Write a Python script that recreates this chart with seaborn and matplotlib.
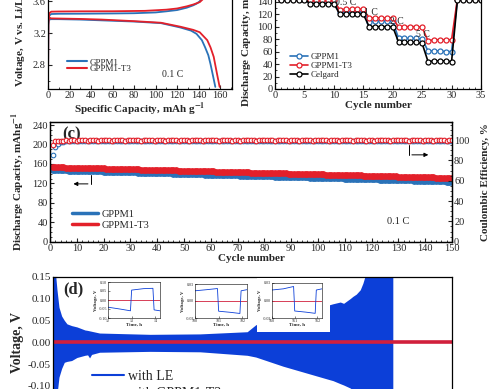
import matplotlib
matplotlib.use("Agg")
import matplotlib.pyplot as plt
import seaborn as sns
from matplotlib.lines import Line2D
from matplotlib.patches import Rectangle
from matplotlib.ticker import MultipleLocator, FormatStrFormatter

# ---------------- data ----------------
# (a) charge / discharge curves at 0.1 C
cap_chg_gppm1 = [0, 0.4, 1.2, 3, 10, 30, 60, 80, 100, 110, 120, 129, 135, 138, 141, 144, 147]
v_chg_gppm1 = [2.52, 3.30, 3.42, 3.44, 3.443, 3.444, 3.447, 3.45, 3.46, 3.474, 3.49, 3.52, 3.55, 3.57, 3.60, 3.66, 3.75]
cap_chg_t3 = [0, 0.4, 1.2, 3, 10, 30, 60, 90, 110, 120, 129, 135, 141, 145, 148]
v_chg_t3 = [2.52, 3.32, 3.45, 3.47, 3.472, 3.474, 3.475, 3.48, 3.495, 3.51, 3.537, 3.56, 3.59, 3.64, 3.75]
cap_dis_gppm1 = [0, 1, 3, 10, 30, 50, 80, 105, 123, 133, 138, 143, 146, 149, 151, 153.5, 155.5]
v_dis_gppm1 = [3.40, 3.37, 3.375, 3.375, 3.37, 3.36, 3.345, 3.325, 3.27, 3.23, 3.19, 3.11, 3.02, 2.92, 2.81, 2.65, 2.52]
cap_dis_t3 = [0, 1, 3, 10, 30, 50, 80, 105, 123, 135, 141, 148, 151, 154, 157, 159.5]
v_dis_t3 = [3.41, 3.39, 3.385, 3.383, 3.378, 3.37, 3.35, 3.33, 3.28, 3.24, 3.21, 3.11, 3.02, 2.90, 2.69, 2.52]

# (b) rate capability
cycles_b = list(range(1, 36))
rate_gppm1 = [144, 144, 144, 144, 144, 141, 141, 141, 141, 141,
              123, 124, 124, 124, 124, 108, 109, 109, 109, 109,
              81, 81, 81, 81, 80, 61, 61, 61, 60, 60,
              144, 144, 144, 144, 144]
rate_t3 = [145, 145, 145, 145, 145, 142, 142, 142, 142, 142,
           127, 128, 128, 128, 128, 114, 114, 114, 114, 114,
           99, 100, 100, 100, 99, 77, 79, 79, 79, 79,
           145, 145, 145, 145, 145]
rate_celgard = [143, 143, 143, 143, 143, 137, 137, 137, 137, 137,
                120, 120, 120, 120, 120, 100, 100, 100, 100, 100,
                75, 75, 75, 75, 73, 44, 45, 45, 45, 44,
                143, 143, 143, 143, 143]
rate_labels = ["0.5 C", "1 C", "2 C", "5 C"]

# (c) cycling at 0.1 C
cycles_c = list(range(1, 151))
cap_gppm1 = [146.8, 147.2, 147.0, 146.9, 146.7, 146.6, 146.4, 146.3, 146.1, 146.0,
             145.8, 145.7, 145.5, 145.3, 145.2, 145.0, 144.9, 144.7, 144.5, 144.4,
             144.2, 144.1, 143.9, 143.7, 143.6, 143.4, 143.3, 143.1, 142.9, 142.8,
             142.6, 142.5, 142.3, 142.1, 142.0, 141.8, 141.7, 141.5, 141.3, 141.2,
             141.0, 140.9, 140.7, 140.5, 140.4, 140.2, 140.1, 139.9, 139.7, 139.6,
             139.4, 139.3, 139.1, 138.9, 138.8, 138.6, 138.5, 138.3, 138.1, 138.0,
             137.8, 137.7, 137.5, 137.3, 137.2, 137.0, 136.9, 136.7, 136.5, 136.4,
             136.2, 136.1, 135.9, 135.7, 135.6, 135.4, 135.3, 135.1, 134.9, 134.8,
             134.6, 134.5, 134.3, 134.1, 134.0, 133.8, 133.7, 133.5, 133.3, 133.2,
             133.0, 132.9, 132.7, 132.5, 132.4, 132.2, 132.1, 131.9, 131.7, 131.6,
             131.4, 131.3, 131.1, 130.9, 130.8, 130.6, 130.5, 130.3, 130.1, 130.0,
             129.8, 129.7, 129.5, 129.3, 129.2, 129.0, 128.9, 128.7, 128.5, 128.4,
             128.2, 128.1, 127.9, 127.7, 127.6, 127.4, 127.3, 127.1, 126.9, 126.8,
             126.6, 126.5, 126.3, 126.1, 126.0, 125.8, 125.7, 125.5, 125.3, 125.2,
             125.0, 124.9, 124.7, 124.5, 124.4, 124.2, 124.1, 123.9, 123.7, 123.6]
cap_t3 = [153.2, 153.4, 152.9, 152.8, 152.8, 152.6, 152.5, 152.4, 152.3, 152.1,
          152.0, 151.8, 151.7, 151.6, 151.4, 151.3, 151.1, 151.0, 150.8, 150.7,
          150.5, 150.4, 150.2, 150.1, 149.9, 149.8, 149.6, 149.5, 149.3, 149.2,
          149.0, 148.9, 148.7, 148.6, 148.4, 148.3, 148.1, 148.0, 147.8, 147.7,
          147.5, 147.4, 147.2, 147.1, 146.9, 146.8, 146.6, 146.5, 146.3, 146.2,
          146.0, 145.9, 145.7, 145.6, 145.4, 145.3, 145.1, 145.0, 144.8, 144.7,
          144.5, 144.4, 144.2, 144.1, 143.9, 143.8, 143.6, 143.5, 143.3, 143.2,
          143.0, 142.9, 142.7, 142.6, 142.4, 142.3, 142.1, 142.0, 141.8, 141.7,
          141.5, 141.4, 141.2, 141.1, 140.9, 140.8, 140.6, 140.5, 140.3, 140.2,
          140.0, 139.9, 139.7, 139.6, 139.4, 139.3, 139.1, 139.0, 138.8, 138.7,
          138.5, 138.4, 138.2, 138.1, 137.9, 137.8, 137.6, 137.5, 137.3, 137.2,
          137.0, 136.9, 136.7, 136.6, 136.4, 136.3, 136.1, 136.0, 135.8, 135.7,
          135.5, 135.4, 135.2, 135.1, 134.9, 134.8, 134.6, 134.5, 134.3, 134.2,
          134.0, 133.9, 133.7, 133.6, 133.4, 133.3, 133.1, 133.0, 132.8, 132.7,
          132.5, 132.4, 132.2, 132.1, 131.9, 131.8, 131.6, 131.5, 131.3, 131.2]
ce_gppm1 = [85.5, 93.0, 96.5, 97.8, 98.4, 98.7, 98.9, 99.0, 99.1, 99.0,
            99.2, 99.1, 99.3, 99.2, 99.1, 99.3, 99.2, 99.4, 99.2, 99.3,
            99.1, 99.3, 99.2, 99.4, 99.3, 99.2, 99.3, 99.1, 99.3, 99.2,
            99.4, 99.3, 99.2, 99.3, 99.4, 99.2, 99.3, 99.1, 99.2, 99.3,
            99.3, 99.2, 99.4, 99.3, 99.2, 99.3, 99.1, 99.3, 99.4, 99.2,
            99.3, 99.2, 99.3, 99.4, 99.2, 99.3, 99.3, 99.1, 99.2, 99.3,
            99.4, 99.3, 99.2, 99.3, 99.1, 99.3, 99.2, 99.4, 99.3, 99.2,
            99.3, 99.2, 99.4, 99.3, 99.2, 99.1, 99.3, 99.2, 99.3, 99.4,
            99.2, 99.3, 99.1, 99.3, 99.2, 99.4, 99.3, 99.2, 99.3, 99.2,
            99.3, 99.4, 99.2, 99.3, 99.1, 99.3, 99.2, 99.3, 99.4, 99.2,
            99.3, 99.2, 99.1, 99.3, 99.4, 99.2, 99.3, 99.2, 99.3, 99.1,
            99.3, 99.2, 99.4, 99.3, 99.2, 99.3, 99.1, 99.3, 99.2, 99.4,
            99.3, 99.2, 99.3, 99.1, 99.2, 99.3, 99.4, 99.2, 99.3, 99.2,
            99.3, 99.1, 99.3, 99.2, 99.4, 99.3, 99.2, 99.3, 99.2, 99.1,
            99.3, 99.2, 99.4, 99.3, 99.2, 99.3, 99.1, 99.3, 99.2, 99.3]
ce_t3 = [95.0, 98.6, 99.2, 99.4, 99.5, 99.6, 99.5, 99.7, 99.6, 99.5,
         99.7, 99.6, 99.8, 99.5, 99.6, 99.7, 99.6, 99.5, 99.7, 99.8,
         99.6, 99.7, 99.5, 99.6, 99.8, 99.7, 99.6, 99.5, 99.7, 99.6,
         99.8, 99.6, 99.7, 99.5, 99.6, 99.7, 99.8, 99.6, 99.5, 99.7,
         99.6, 99.7, 99.5, 99.8, 99.6, 99.7, 99.6, 99.5, 99.7, 99.6,
         99.7, 99.5, 99.6, 99.8, 99.7, 99.6, 99.5, 99.7, 99.6, 99.8,
         99.6, 99.7, 99.5, 99.6, 99.7, 99.8, 99.6, 99.5, 99.7, 99.6,
         99.5, 99.7, 99.6, 99.8, 99.7, 99.6, 99.5, 99.7, 99.6, 99.7,
         99.8, 99.6, 99.7, 99.5, 99.6, 99.7, 99.6, 99.8, 99.5, 99.7,
         99.6, 99.7, 99.5, 99.6, 99.8, 99.7, 99.6, 99.5, 99.7, 99.6,
         99.7, 99.6, 99.8, 99.5, 99.6, 99.7, 99.6, 99.5, 99.7, 99.8,
         99.6, 99.7, 99.5, 99.6, 99.7, 99.8, 99.6, 99.5, 99.7, 99.6,
         99.5, 99.7, 99.6, 99.8, 99.7, 99.6, 99.5, 99.7, 99.6, 99.7,
         99.8, 99.6, 99.7, 99.5, 99.6, 99.7, 99.6, 99.8, 99.5, 99.7,
         99.6, 99.7, 99.5, 99.6, 99.8, 99.7, 99.6, 99.5, 99.7, 99.6]

# (d) Li/Li symmetric cell: envelope of the LE cell voltage, GPPM1-T3 cell voltage
t_le = [0, 3, 6, 9, 13, 17, 21, 28, 36, 48, 52, 55, 58, 70, 146, 221, 292, 305,
        346, 414, 421, 432, 437, 447, 451, 456, 462, 466, 471, 477, 511]
v_le_top = [0.20, 0.17, 0.12, 0.08, 0.06, 0.05, 0.042, 0.038, 0.035, 0.028, 0.027, 0.026,
            0.025, 0.021, 0.018, 0.019, 0.024, 0.04, 0.06, 0.085, 0.088, 0.092, 0.089, 0.10,
            0.105, 0.11, 0.12, 0.135, 0.16, 0.17, 0.17]
v_le_bot = [-0.20, -0.17, -0.12, -0.08, -0.06, -0.046, -0.044, -0.042, -0.035, -0.03,
            -0.029, -0.036, -0.028, -0.023, -0.021, -0.022, -0.03, -0.034, -0.055, -0.085,
            -0.088, -0.095, -0.098, -0.105, -0.11, -0.113, -0.118, -0.12, -0.122, -0.125, -0.16]
t_t3 = [0, 600]
v_t3 = [0.0, 0.0]

# insets: zoomed voltage profiles
ins1_t = [12.0, 12.5, 12.95, 13.0, 13.5, 13.9, 13.95, 14.2]
ins1_v = [-0.04, -0.05, -0.06, 0.055, 0.063, 0.065, -0.055, -0.06]
ins2_t = [100.0, 100.5, 100.95, 101.0, 101.5, 101.9, 101.95, 102.2]
ins2_v = [0.018, 0.02, 0.022, -0.018, -0.02, -0.022, 0.018, 0.02]
ins3_t = [560.0, 560.5, 560.95, 561.0, 561.5, 561.9, 561.95, 562.2]
ins3_v = [0.018, 0.02, 0.024, -0.018, -0.02, -0.022, 0.018, 0.02]

# ---------------- style ----------------
sns.set_style("ticks")
plt.rcParams['font.family'] = ['Liberation Serif', 'DejaVu Serif']
plt.rcParams['mathtext.fontset'] = 'stix'
plt.rcParams['xtick.direction'] = 'in'
plt.rcParams['ytick.direction'] = 'in'
plt.rcParams['axes.linewidth'] = 0.9
plt.rcParams['axes.edgecolor'] = 'black'

BLUE = "#2a72b8"
RED = "#e3202a"
DBLUE = "#0c3fd8"
DRED = "#d11f3c"
W, H = 499, 389

fig = plt.figure(figsize=(W / 100, H / 100), dpi=100)


def px_axes(x0, y_top, x1, y_bot):
    return fig.add_axes([x0 / W, 1 - y_bot / H, (x1 - x0) / W, (y_bot - y_top) / H])


def tick_style(ax, size=7.5):
    ax.tick_params(which='major', length=3, width=0.8, labelsize=size, pad=1.5)
    ax.tick_params(which='minor', length=1.6, width=0.6)


# ---------------- (a) ----------------
ax_a = px_axes(48, -14.5, 232, 88.5)
sns.lineplot(x=cap_chg_gppm1, y=v_chg_gppm1, color=BLUE, lw=1.3, sort=False, ax=ax_a)
sns.lineplot(x=cap_dis_gppm1, y=v_dis_gppm1, color=BLUE, lw=1.3, sort=False, ax=ax_a)
sns.lineplot(x=cap_chg_t3, y=v_chg_t3, color=RED, lw=1.3, sort=False, ax=ax_a)
sns.lineplot(x=cap_dis_t3, y=v_dis_t3, color=RED, lw=1.3, sort=False, ax=ax_a)
ax_a.set_xlim(0, 171)
ax_a.set_ylim(2.5, 3.8)
ax_a.xaxis.set_major_locator(MultipleLocator(20))
ax_a.xaxis.set_minor_locator(MultipleLocator(10))
ax_a.yaxis.set_major_locator(MultipleLocator(0.4))
ax_a.yaxis.set_minor_locator(MultipleLocator(0.2))
tick_style(ax_a)
ax_a.set_xlabel("Specific Capacity, mAh g$^{\\mathbf{-1}}$", fontsize=8, fontweight='bold', labelpad=1)
ax_a.set_ylabel("Voltage, V vs. Li/Li$^{+}$", fontsize=8, fontweight='bold', labelpad=3)
ax_a.text(116, 2.65, "0.1 C", fontsize=7, ha='center', va='baseline')
ax_a.legend([Line2D([], [], color=BLUE, lw=1.5), Line2D([], [], color=RED, lw=1.5)],
            ["GPPM1", "GPPM1-T3"], loc='upper left', bbox_to_anchor=(0.103, 0.293),
            frameon=False, fontsize=6.5, handlelength=2.2, handletextpad=0.3,
            labelspacing=-0.2, borderpad=0, borderaxespad=0)

# ---------------- (b) ----------------
ax_b = px_axes(275, -17, 481, 89)
for vals, col, lab in [(rate_gppm1, BLUE, "GPPM1"), (rate_t3, RED, "GPPM1-T3"),
                       (rate_celgard, "black", "Celgard")]:
    sns.lineplot(x=cycles_b, y=vals, color=col, lw=1.2, marker='o', markersize=3.6,
                 markerfacecolor='white', markeredgecolor=col, markeredgewidth=0.9,
                 label=lab, ax=ax_b)
ax_b.set_xlim(0, 35)
ax_b.set_ylim(0, 170)
ax_b.xaxis.set_major_locator(MultipleLocator(5))
ax_b.xaxis.set_minor_locator(MultipleLocator(1))
ax_b.yaxis.set_major_locator(MultipleLocator(20))
ax_b.yaxis.set_minor_locator(MultipleLocator(10))
tick_style(ax_b)
ax_b.set_xlabel("Cycle number", fontsize=8, fontweight='bold', labelpad=1)
ax_b.set_ylabel("Discharge Capacity, mAh g$^{\\mathbf{-1}}$", fontsize=8, fontweight='bold', labelpad=2)
for lab, cx, cy in zip(rate_labels, [12.0, 16.3, 20.7, 25.2], [134, 118.4, 104, 83.7]):
    ax_b.text(cx, cy, lab, fontsize=7, ha='center', va='baseline')
ax_b.legend(loc='upper left', bbox_to_anchor=(0.073, 0.34), frameon=False, fontsize=6.5,
            handlelength=2.0, handletextpad=0.3, labelspacing=0.05, borderpad=0, borderaxespad=0)

# ---------------- (c) ----------------
ax_c = px_axes(50, 121.7, 452, 241.7)
ax_c2 = ax_c.twinx()
sns.scatterplot(x=cycles_c, y=cap_gppm1, color=BLUE, s=24, linewidth=0, ax=ax_c)
sns.scatterplot(x=cycles_c, y=cap_t3, color=RED, s=24, linewidth=0, ax=ax_c)
sns.scatterplot(x=cycles_c, y=ce_gppm1, color='white', edgecolor=BLUE, s=11, linewidth=0.8, ax=ax_c2)
sns.scatterplot(x=cycles_c, y=ce_t3, color='white', edgecolor=RED, s=11, linewidth=0.8, ax=ax_c2)
ax_c.set_xlim(0, 150)
ax_c.set_ylim(0, 247)
ax_c2.set_ylim(0, 118)
ax_c.xaxis.set_major_locator(MultipleLocator(10))
ax_c.xaxis.set_minor_locator(MultipleLocator(2))
ax_c.yaxis.set_major_locator(MultipleLocator(40))
ax_c.yaxis.set_minor_locator(MultipleLocator(10))
ax_c2.yaxis.set_major_locator(MultipleLocator(20))
ax_c2.yaxis.set_minor_locator(MultipleLocator(5))
tick_style(ax_c)
tick_style(ax_c2)
ax_c.set_xlabel("Cycle number", fontsize=8, fontweight='bold', labelpad=1)
ax_c.set_ylabel("Discharge Capacity, mAhg$^{\\mathbf{-1}}$", fontsize=8, fontweight='bold', labelpad=4)
ax_c2.set_ylabel("Coulombic Efficiency, %", fontsize=8, fontweight='bold', labelpad=8)
ax_c.text(0.03, 0.965, "(c)", transform=ax_c.transAxes, fontsize=12, fontweight='bold', va='top')
ax_c.text(130, 41, "0.1 C", fontsize=7.5, ha='center', va='center')
ax_c.plot([15.2, 15.2], [137, 119], color='black', lw=0.7)
ax_c.annotate("", xy=(7.7, 119), xytext=(15.2, 119),
              arrowprops=dict(arrowstyle='-|>', lw=0.7, color='black', mutation_scale=6))
ax_c2.plot([134, 134], [95.5, 85.4], color='black', lw=0.7)
ax_c2.annotate("", xy=(142.2, 85.4), xytext=(134, 85.4),
               arrowprops=dict(arrowstyle='-|>', lw=0.7, color='black', mutation_scale=6))
ax_c.legend([Line2D([], [], color=BLUE, lw=2.5), Line2D([], [], color=RED, lw=2.5)],
            ["GPPM1", "GPPM1-T3"], loc='upper left', bbox_to_anchor=(0.055, 0.268),
            frameon=False, fontsize=7.5, handlelength=2.5, handletextpad=0.3,
            labelspacing=0.15, borderpad=0, borderaxespad=0)

# ---------------- (d) ----------------
ax_d = px_axes(53, 276.7, 452, 407.7)
ax_d.fill_between(t_le, v_le_bot, v_le_top, color=DBLUE, lw=0)
sns.lineplot(x=t_t3, y=v_t3, color=DRED, lw=2.6, ax=ax_d)
ax_d.set_xlim(0, 600)
ax_d.set_ylim(-0.15, 0.15)
ax_d.yaxis.set_major_locator(MultipleLocator(0.05))
ax_d.xaxis.set_major_locator(MultipleLocator(100))
ax_d.yaxis.set_major_formatter(FormatStrFormatter('%.2f'))
tick_style(ax_d, size=8)
ax_d.set_ylabel("Voltage, V", fontsize=10, fontweight='bold', labelpad=3)
ax_d.set_xlabel("Time, h", fontsize=10, fontweight='bold')
ax_d.text(0.025, 0.967, "(d)", transform=ax_d.transAxes, fontsize=12, fontweight='bold', va='top')
ax_d.legend([Line2D([], [], color=DBLUE, lw=1.5), Line2D([], [], color=DRED, lw=1.5)],
            ["with LE", "with GPPM1-T3"], loc='upper left', bbox_to_anchor=(0.098, 0.29),
            frameon=False, fontsize=10, handlelength=2.3, handletextpad=0.3,
            labelspacing=0.3, borderpad=0, borderaxespad=0)

# white boxes behind the insets
for x0, y0, x1, y1 in [(95, 279, 163, 329), (180, 280, 248, 329), (257, 278, 330, 332)]:
    fig.add_artist(Rectangle((x0 / W, 1 - y1 / H), (x1 - x0) / W, (y1 - y0) / H,
                             transform=fig.transFigure, facecolor='white', edgecolor='none', zorder=5))

insets = [
    ((108, 282, 160, 318), ins1_t, ins1_v, (12, 14.2), (-0.10, 0.10), [-0.10, -0.05, 0.0, 0.05, 0.10], [12, 13, 14]),
    ((195, 284, 247, 318), ins2_t, ins2_v, (100, 102.2), (-0.03, 0.03), [-0.03, 0.0, 0.03], [100, 101, 102]),
    ((272, 283, 322, 318), ins3_t, ins3_v, (560, 562.2), (-0.03, 0.03), [-0.03, 0.0, 0.03], [560, 561, 562]),
]
for box, tt, vv, xl, yl, yt, xt in insets:
    ai = px_axes(*box)
    ai.set_zorder(6)
    ai.axhline(0, color=DRED, lw=0.6)
    sns.lineplot(x=tt, y=vv, color=DBLUE, lw=0.6, ax=ai)
    ai.set_xlim(*xl)
    ai.set_ylim(*yl)
    ai.set_yticks(yt)
    ai.set_xticks(xt)
    ai.yaxis.set_major_formatter(FormatStrFormatter('%.2f'))
    ai.tick_params(labelsize=3, length=1.2, width=0.4, pad=0.5)
    for s in ai.spines.values():
        s.set_linewidth(0.4)
    ai.set_xlabel("Time, h", fontsize=3.5, fontweight='bold', labelpad=0)
    ai.set_ylabel("Voltage, V", fontsize=3.5, fontweight='bold', labelpad=0.5)

fig.savefig("out.png", dpi=100)
